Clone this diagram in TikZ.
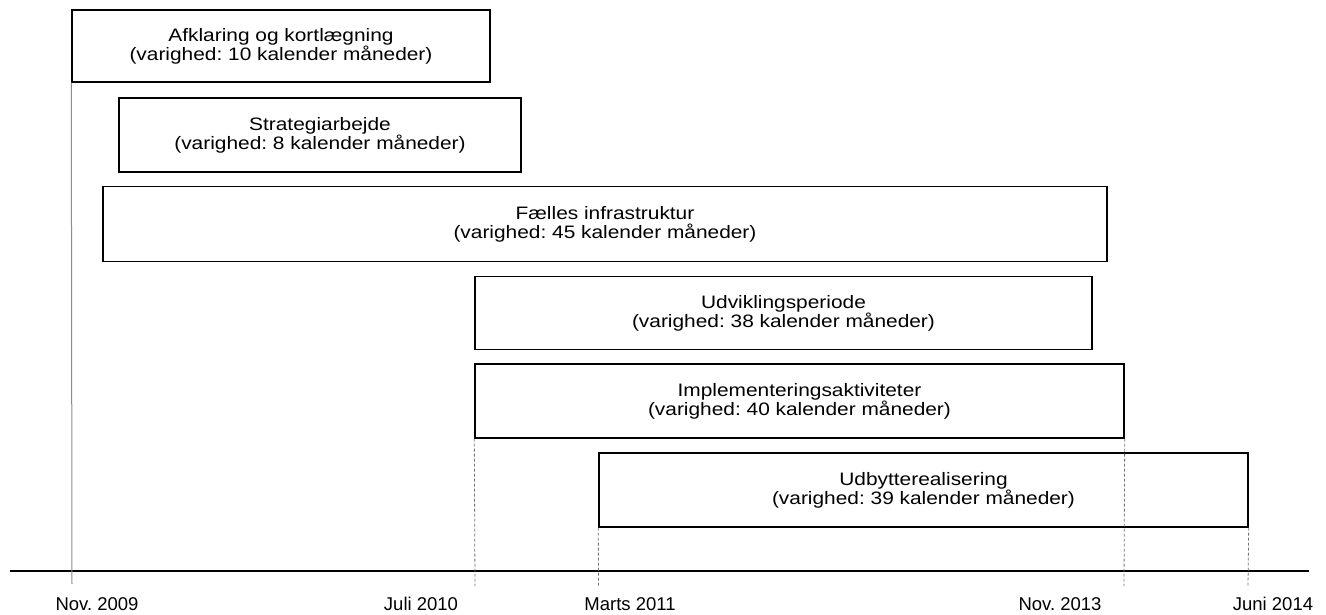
\documentclass[tikz,border=0pt]{standalone}
\usepackage{fontspec}
\setmainfont{Liberation Sans}
\newfontfamily\boxfont[FakeStretch=1.16]{Liberation Sans}
\frenchspacing

\begin{document}
\begin{tikzpicture}[
  x=1pt,y=-1pt,
  phasenode/.style={%
    rectangle,%
    draw=black,
    %draw=gray!80,
    line width=1.4pt,
    align=center,
    inner sep=0pt,
    execute at begin node=\rule{0pt}{19pt},
    font=\boxfont\fontsize{18}{19}\selectfont%
  },
  datenode/.style={%
    inner sep=0pt,
    font=\fontsize{18.5}{20}\selectfont%
  },
  guideline/.style={%
    draw=black!55,
    densely dashed,
    line width=0.8pt
  }
]
  \useasboundingbox (0,0) rectangle (1326,614);

  \node [phasenode, minimum width=418, minimum height=72] (afk)  at (281,46)   {Afklaring og kortlægning\\(varighed: 10 kalender måneder)};
  \node [phasenode, minimum width=402, minimum height=74] (strat) at (320,135)  {Strategiarbejde\\(varighed: 8 kalender måneder)};
  \node [phasenode, minimum width=1004, minimum height=75] (infra) at (605,224) {Fælles infrastruktur\\(varighed: 45 kalender måneder)};
  \node [phasenode, minimum width=617, minimum height=73] (udv)  at (783.5,313) {Udviklingsperiode\\(varighed: 38 kalender måneder)};
  \node [phasenode, minimum width=649, minimum height=74] (impl) at (799.5,401) {Implementeringsaktiviteter\\(varighed: 40 kalender måneder)};
  \node [phasenode, minimum width=649, minimum height=74] (udb)  at (923.5,490) {Udbytterealisering\\(varighed: 39 kalender måneder)};

  % time axis
  \coordinate (axl) at (10,571);
  \coordinate (axr) at (1309,571);
  \draw[line width=1.4pt] (axl) -- (axr);

  \coordinate (t1) at (72,584);
  \coordinate (t2) at (475,586);
  \coordinate (t3) at (598.5,586);
  \coordinate (t4) at (1124,586);
  \coordinate (t5) at (1248,586);

  \draw[black!45, line width=1pt] (afk.south west) -- (t1);
  \draw[guideline] (impl.south west) -- (t2);
  \draw[guideline] (udb.south west) -- (t3);
  \draw[guideline] (impl.south east) -- (t4);
  \draw[guideline] (udb.south east) -- (t5);

  \node [datenode] (d1) at (97,604)   {Nov. 2009};
  \node [datenode] (d2) at (421,604)  {Juli 2010};
  \node [datenode] (d3) at (630,604)  {Marts 2011};
  \node [datenode] (d4) at (1060,604) {Nov. 2013};
  \node [datenode] (d5) at (1273,604) {Juni 2014};

\end{tikzpicture}
\end{document}
